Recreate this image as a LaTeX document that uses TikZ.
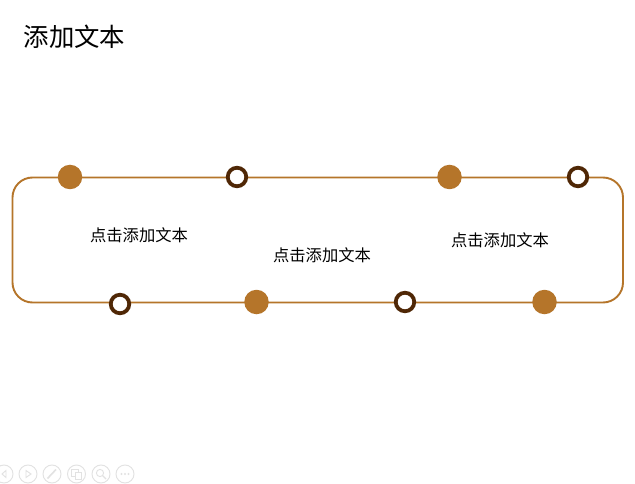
\documentclass[tikz,border=0pt]{standalone}
\usepackage{fontspec}
\setmainfont{Noto Sans CJK SC}
\definecolor{ochre}{HTML}{B5752A}
\definecolor{darkbrown}{HTML}{4F2706}
\definecolor{navgray}{HTML}{E2E2E2}
\tikzset{
  filleddot/.style={circle,fill=ochre,draw=none,minimum size=24.5pt,inner sep=0pt},
  ringdot/.style={circle,fill=white,draw=darkbrown,line width=3.8pt,minimum size=18.5pt,inner sep=0pt},
  label/.style={inner sep=0pt,font=\fontsize{16.3pt}{18pt}\selectfont,text=black},
  navbtn/.style={circle,draw=navgray,line width=0.9pt,minimum size=18pt,inner sep=0pt},
}
\begin{document}
\begin{tikzpicture}[x=1pt,y=-1pt]
\useasboundingbox (0,0) rectangle (635,484);
\fill[white] (0,0) rectangle (635,484);
\node[inner sep=0pt,anchor=center,font=\fontsize{25.4pt}{28pt}\selectfont] (title) at (74.5,36.5) {添加文本};
\draw[ochre,line width=1.9pt,rounded corners=20pt] (12.5,177.5) rectangle (623,302.5);
\node[filleddot] (a1) at (70,177) {};
\node[ringdot] (a2) at (237,177) {};
\node[filleddot] (a3) at (449.5,177) {};
\node[ringdot] (a4) at (578,177) {};
\node[ringdot] (b1) at (120,304) {};
\node[filleddot] (b2) at (256.5,302) {};
\node[ringdot] (b3) at (405,302) {};
\node[filleddot] (b4) at (544.5,302) {};
\node[label] (t1) at (139,235) {点击添加文本};
\node[label] (t2) at (322,255.5) {点击添加文本};
\node[label] (t3) at (500,240) {点击添加文本};
% slide-show controls
\node[navbtn] (n1) at (4,474) {};
\node[navbtn] (n2) at (28,474) {};
\node[navbtn] (n3) at (52,474) {};
\node[navbtn] (n4) at (76.5,474) {};
\node[navbtn] (n5) at (101,474) {};
\node[navbtn] (n6) at (125,474) {};
\draw[navgray,line width=0.9pt] (6,470.5) -- (2,474) -- (6,477.5) -- cycle;
\draw[navgray,line width=0.9pt] (26,470.5) -- (31,474) -- (26,477.5) -- cycle;
\draw[navgray,line width=1.6pt] (47.5,478.5) -- (56,469.5);
\draw[navgray,line width=0.9pt] (71.5,469.5) rectangle (78,476);
\draw[navgray,line width=0.9pt,fill=white] (75,472.5) rectangle (81,479);
\draw[navgray,line width=0.9pt] (100,473) circle (3.6pt);
\draw[navgray,line width=1.4pt] (102.8,475.8) -- (106,479);
\foreach \xx in {121.5,125,128.5} \fill[navgray] (\xx,474) circle (1.1pt);
\end{tikzpicture}
\end{document}
